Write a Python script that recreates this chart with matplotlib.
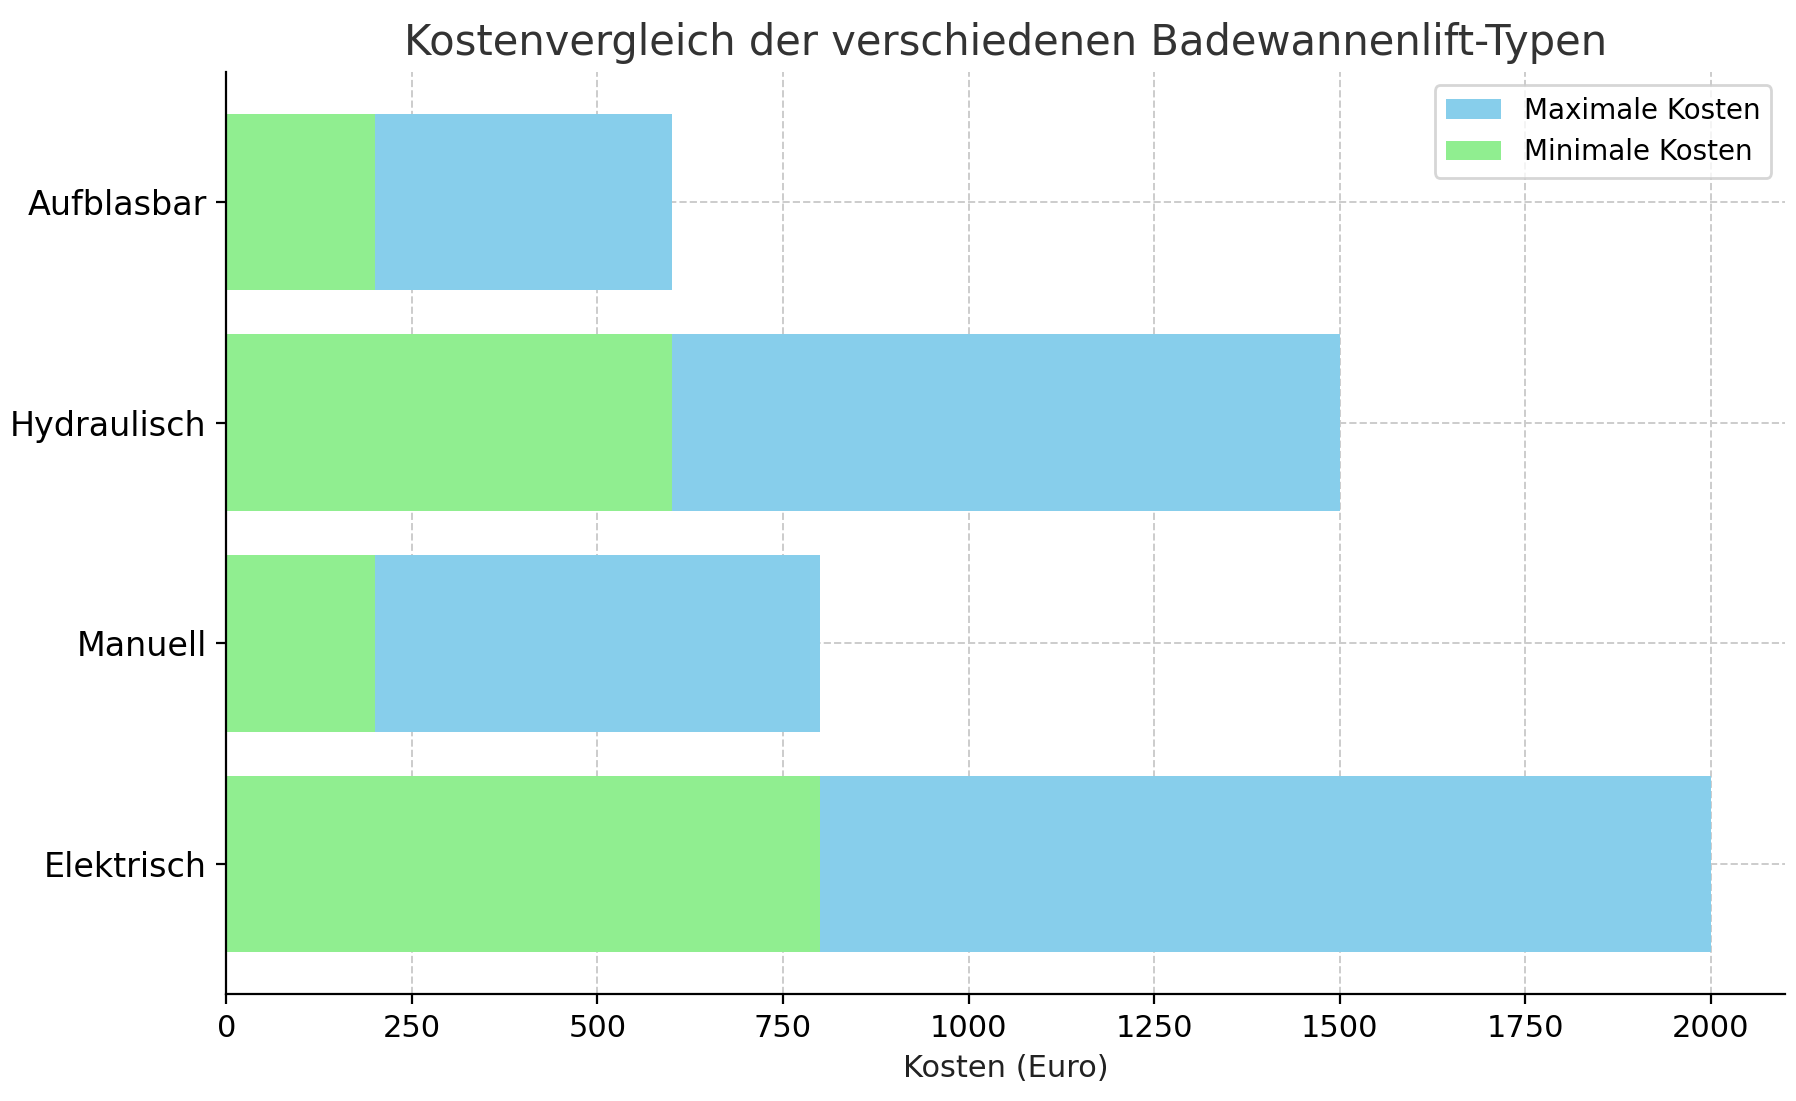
import matplotlib
matplotlib.use("Agg")
import matplotlib.pyplot as plt

categories = ["Elektrisch", "Manuell", "Hydraulisch", "Aufblasbar"]
max_costs = [2000, 800, 1500, 600]
min_costs = [800, 200, 600, 200]

fig = plt.figure(figsize=(8.98, 5.505), dpi=200)
ax = fig.add_axes([0.126, 0.097, 0.868, 0.838])
ax.barh(categories, max_costs, color="#87CEEB", label="Maximale Kosten", height=0.8, zorder=2)
ax.barh(categories, min_costs, color="#90EE90", label="Minimale Kosten", height=0.8, zorder=2)
ax.set_xlim(0, 2100)
ax.set_xlabel("Kosten (Euro)", fontsize=11, color="#222222")
ax.set_title("Kostenvergleich der verschiedenen Badewannenlift-Typen", fontsize=15, color="#333333")
ax.grid(True, linestyle="--", color="#cccccc", linewidth=0.7, zorder=0)
ax.spines["top"].set_visible(False)
ax.spines["right"].set_visible(False)
ax.tick_params(axis="x", labelsize=11)
ax.tick_params(axis="y", labelsize=12)
ax.legend(loc="upper right", fontsize=10)
fig.savefig("out.png", dpi=200)
